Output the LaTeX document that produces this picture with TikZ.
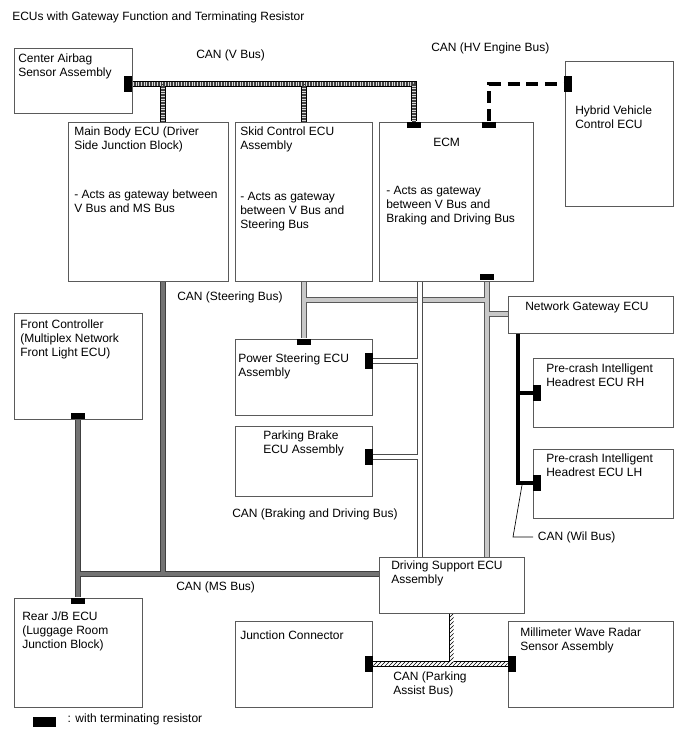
\documentclass[tikz,border=0pt]{standalone}
\usepackage{fontspec}
\setmainfont{Liberation Sans}
\usetikzlibrary{positioning,calc,fit,backgrounds,patterns}
\definecolor{boxgray}{RGB}{90,90,90}
\definecolor{steerfill}{RGB}{200,200,200}
\definecolor{msfill}{RGB}{115,115,115}
\newcommand{\ecufont}{\fontsize{9}{10.5}\selectfont}
\tikzset{
  ecu/.style={draw=boxgray, line width=0.6pt, inner sep=0pt, fill=white},
  ecutext/.style={anchor=north west, align=left, inner sep=0pt, font=\ecufont},
  buslabel/.style={anchor=north west, align=left, inner sep=0pt, font=\ecufont},
  termh/.style={fill=black, inner sep=0pt, minimum width=11pt, minimum height=5pt},
  termv/.style={fill=black, inner sep=0pt, minimum width=6pt, minimum height=11.5pt},
  vbus/.style={draw=black, double=black!15, double distance=2.6pt, line width=0.6pt,
    postaction={draw=black!75, line width=2.6pt, dash pattern=on 0.55pt off 0.65pt}},
  hvbus/.style={draw=black, line width=3.6pt, dash pattern=on 9pt off 5pt},
  steerbus/.style={draw=black!65, double=steerfill, double distance=3pt, line width=0.7pt},
  brakebus/.style={draw=black!70, double=white, double distance=3pt, line width=0.6pt},
  msbus/.style={draw=black!75, double=msfill, double distance=2.6pt, line width=0.6pt},
  pabus/.style={draw=black, double=white, double distance=3pt, line width=0.7pt},
  wilbus/.style={draw=black, line width=3.5pt},
  leader/.style={draw=black, line width=0.5pt}
}

\begin{document}
\begin{tikzpicture}[x=0.75pt,y=-0.75pt]
  \useasboundingbox (0,0) rectangle (688,755);
  \node[buslabel] (title) at (12,12) {ECUs with Gateway Function and Terminating Resistor};

  % ECU boxes
  \node[ecu, fit={(14,48) (132,113)}] (airbag) {};
  \node[ecu, fit={(68,122) (228,281)}] (mainbody) {};
  \node[ecu, fit={(235,122) (372,281)}] (skid) {};
  \node[ecu, fit={(379,122) (533,281)}] (ecm) {};
  \node[ecu, fit={(565,61) (673,206)}] (hybrid) {};
  \node[ecu, fit={(508,296) (673,333)}] (ngw) {};
  \node[ecu, fit={(533,358) (673,427)}] (pcrh) {};
  \node[ecu, fit={(533,449) (673,518)}] (pclh) {};
  \node[ecu, fit={(14,313) (142,419)}] (front) {};
  \node[ecu, fit={(235,339) (372,415)}] (psteer) {};
  \node[ecu, fit={(235,426) (372,496)}] (pbrake) {};
  \node[ecu, fit={(379,557) (524,613)}] (drive) {};
  \node[ecu, fit={(14,598) (142,707)}] (rearjb) {};
  \node[ecu, fit={(235,621) (372,707)}] (jconn) {};
  \node[ecu, fit={(508,621) (673,707)}] (mmw) {};

  % box texts
  \node[ecutext] (airbagTxt) at (18,54) {Center Airbag\\Sensor Assembly};
  \node[ecutext] (mainbodyTxt) at (74,127) {Main Body ECU (Driver\\Side Junction Block)};
  \node[ecutext] (mainbodyNote) at (74,190) {- Acts as gateway between\\V Bus and MS Bus};
  \node[ecutext] (skidTxt) at (240,127) {Skid Control ECU\\Assembly};
  \node[ecutext] (skidNote) at (240,192) {- Acts as gateway\\between V Bus and\\Steering Bus};
  \node[ecutext] (ecmTxt) at (433,138) {ECM};
  \node[ecutext] (ecmNote) at (386,186) {- Acts as gateway\\between V Bus and\\Braking and Driving Bus};
  \node[ecutext] (hybridTxt) at (575,106) {Hybrid Vehicle\\Control ECU};
  \node[ecutext] (ngwTxt) at (525,302) {Network Gateway ECU};
  \node[ecutext] (pcrhTxt) at (546,364) {Pre-crash Intelligent\\Headrest ECU RH};
  \node[ecutext] (pclhTxt) at (546,454) {Pre-crash Intelligent\\Headrest ECU LH};
  \node[ecutext] (frontTxt) at (20,320) {Front Controller\\(Multiplex Network\\Front Light ECU)};
  \node[ecutext] (psteerTxt) at (238,354) {Power Steering ECU\\Assembly};
  \node[ecutext] (pbrakeTxt) at (263,431) {Parking Brake\\ECU Assembly};
  \node[ecutext] (driveTxt) at (391,561) {Driving Support ECU\\Assembly};
  \node[ecutext] (rearjbTxt) at (22,612) {Rear J/B ECU\\(Luggage Room\\Junction Block)};
  \node[ecutext] (jconnTxt) at (240,631) {Junction Connector};
  \node[ecutext] (mmwTxt) at (520,628) {Millimeter Wave Radar\\Sensor Assembly};

  % terminating resistors
  \node[termv] (tAir) at (128,84) {};
  \node[termv] (tHv) at (568,84) {};
  \node[termh] (tEcmV) at (414,125) {};
  \node[termh] (tEcmHv) at (489,125) {};
  \node[termh] (tEcmSt) at (487,277) {};
  \node[termh] (tPsTop) at (304,342) {};
  \node[termv] (tPsR) at (369,361) {};
  \node[termv] (tPbR) at (369,457) {};
  \node[termh] (tFc) at (78,416) {};
  \node[termh] (tRjb) at (78,601) {};
  \node[termv] (tJc) at (369,664) {};
  \node[termv] (tMmw) at (512,664) {};
  \node[termv] (tRh) at (537,393) {};
  \node[termv] (tLh) at (537,483) {};

  % bus junctions
  \coordinate (vA) at (163,84);
  \coordinate (vB) at (304,84);
  \coordinate (vR) at (414,84);
  \coordinate (stL) at (304,300);
  \coordinate (stN) at (487,314);
  \coordinate (bkX) at (420,0);
  \coordinate (msJ) at (163,574);
  \coordinate (wX) at (518,0);

  \begin{scope}[on background layer]
    \draw[vbus] (tAir.east) -- (vR) -- (tEcmV.north)
      (vA) -- (vA |- mainbody.north) (vB) -- (vB |- skid.north);
    \draw[hvbus] (tEcmHv.north) -- (tEcmHv |- tHv) -- (tHv.west);
    \draw[steerbus] (tPsTop |- skid.south) -- (tPsTop.north)
      (stL) -- (stL -| tEcmSt) (tEcmSt.south) -- (tEcmSt |- drive.north)
      (stN) -- (stN -| ngw.west);
    \draw[brakebus] (ecm.south -| bkX) -- (drive.north -| bkX)
      (tPsR.east) -- (tPsR -| bkX) (tPbR.east) -- (tPbR -| bkX);
    \draw[msbus] (mainbody.south -| msJ) -- (msJ)
      (tFc.south) -- (tRjb.north) (tFc |- msJ) -- (msJ -| drive.west);
    \draw[pabus] (drive.south) -- (drive.south |- tJc) (tJc.east) -- (tMmw.west);
    \fill[pattern=north east lines] ($(drive.south)+(-2,0)$) rectangle ($(drive.south |- tJc)+(2,0)$);
    \fill[pattern=north east lines] ($(tJc.east)+(0,-2)$) rectangle ($(tMmw.west)+(0,2)$);
    \draw[wilbus] (ngw.south -| wX) -- (tLh -| wX) -- (tLh.west)
      (tRh -| wX) -- (tRh.west);
  \end{scope}

  % bus labels
  \node[buslabel] (vLbl) at (196,50) {CAN (V Bus)};
  \node[buslabel] (hvLbl) at (431,43) {CAN (HV Engine Bus)};
  \node[buslabel] (stLbl) at (177,292) {CAN (Steering Bus)};
  \node[buslabel] (bkLbl) at (232,509) {CAN (Braking and Driving Bus)};
  \node[buslabel] (msLbl) at (176,582) {CAN (MS Bus)};
  \node[buslabel] (paLbl) at (393,672) {CAN (Parking\\Assist Bus)};
  \node[buslabel, anchor=west, inner xsep=3.5pt] (wilLbl) at (533,537) {CAN (Wil Bus)};
  \coordinate (wilA) at (522,485);
  \coordinate (wilB) at (513,537);
  \draw[leader] (wilA) -- (wilB) -- (wilLbl.west);

  % legend
  \node[fill=black, inner sep=0pt, minimum width=17pt, minimum height=7.5pt] (legKey) at (44.5,722) {};
  \node[buslabel, right=8.5pt of legKey, yshift=2pt] (legTxt) {: with terminating resistor};
\end{tikzpicture}
\end{document}
